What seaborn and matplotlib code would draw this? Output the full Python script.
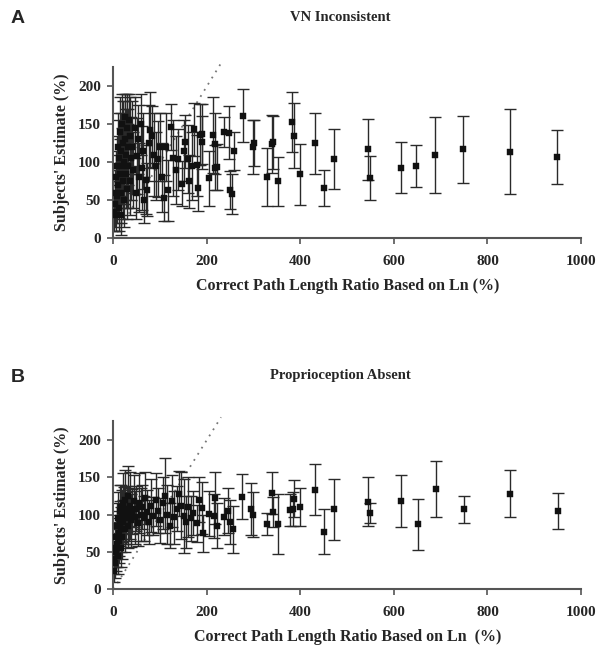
import numpy as np
import pandas as pd
import matplotlib
matplotlib.use("Agg")
import matplotlib.pyplot as plt
import seaborn as sns

# Panel A: VN Inconsistent  (x = correct ratio %, y = mean estimate %, err = SD)
a_x = [2, 3, 4, 5, 6, 7, 8, 9, 10, 11, 12, 13, 14, 15, 16, 17, 18, 19, 20, 21,
       22, 23, 24, 25, 26, 27, 28, 29, 30, 32, 33, 35, 36, 38, 40, 42, 45, 48, 50, 53,
       55, 58, 60, 63, 66, 69, 72, 75, 78, 82, 86, 90, 95, 100, 103, 108, 112, 117, 122, 127,
       133, 138, 146, 150, 154, 159, 161, 168, 173, 179, 180, 186, 189, 190, 205, 213, 217, 218, 221, 236,
       247, 250, 254, 257, 276, 298, 301, 328, 339, 341, 351,
       381, 386, 399, 430, 450, 471, 544, 548, 616, 648, 688, 748, 848, 948]
a_y = [35, 60, 45, 80, 30, 95, 55, 120, 70, 40, 105, 85, 140, 60, 115, 30, 95, 150, 75, 125,
       50, 100, 160, 130, 85, 110, 65, 145, 120, 95, 155, 75, 135, 105, 120, 90, 145, 60, 108, 130,
       80, 150, 92, 115, 50, 77, 64, 125, 142, 134, 110, 95, 104, 120, 80, 53, 120, 63, 146, 105,
       90, 104, 72, 115, 127, 104, 75, 95, 143, 96, 66, 136, 137, 126, 79, 136, 124, 93, 94, 140,
       139, 63, 58, 115, 161, 120, 125, 80, 124, 126, 75,
       153, 135, 84, 125, 66, 104, 117, 79, 93, 95, 109, 117, 114, 107]
a_err = [25, 30, 30, 35, 20, 40, 35, 45, 40, 30, 50, 45, 45, 40, 50, 25, 50, 40, 50, 55,
         35, 55, 30, 50, 45, 60, 40, 45, 50, 55, 35, 45, 50, 55, 60, 50, 40, 35, 50, 45,
         45, 40, 55, 50, 30, 45, 35, 50, 50, 40, 55, 45, 50, 45, 45, 30, 45, 40, 30, 50,
         45, 40, 30, 40, 35, 45, 35, 45, 35, 40, 30, 40, 40, 35, 36, 50, 40, 30, 30, 20,
         35, 25, 26, 25, 35, 35, 30, 38, 38, 35, 32,
         39, 43, 40, 40, 24, 39, 40, 29, 34, 27, 50, 44, 56, 35]

# Panel B: Proprioception Absent
b_x = [1, 2, 3, 4, 5, 6, 7, 8, 9, 10, 11, 12, 13, 14, 15, 16, 17, 18, 19, 20,
       21, 22, 24, 25, 26, 28, 30, 32, 34, 36, 38, 40, 43, 46, 49, 52, 55, 58, 62, 65,
       68, 72, 76, 80, 85, 90, 95, 100, 105, 110, 115, 120, 125, 130, 135, 140, 145, 150, 155, 160,
       165, 170, 178, 183, 189, 191, 204, 215, 217, 221, 237, 246, 250, 256, 275, 294, 299, 328, 340, 341,
       351, 377,
       383, 386, 399, 430, 450, 471, 544, 548, 616, 651, 690, 749, 848, 950]
b_y = [25, 40, 55, 35, 70, 50, 85, 60, 45, 95, 75, 65, 105, 88, 55, 110, 80, 98, 70, 115,
       90, 102, 80, 120, 95, 108, 85, 125, 100, 112, 92, 104, 118, 96, 108, 88, 115, 100, 110, 95,
       122, 103, 90, 112, 98, 120, 105, 92, 115, 125, 100, 85, 118, 96, 108, 128, 112, 98, 90, 110,
       95, 102, 88, 120, 109, 75, 101, 98, 122, 85, 97, 105, 90, 80, 124, 107, 100, 87, 129, 103,
       87, 106,
       107, 121, 110, 133, 77, 107, 117, 102, 118, 87, 134, 107, 128, 105]
b_err = [15, 20, 25, 20, 30, 25, 30, 30, 25, 35, 30, 30, 35, 30, 25, 30, 30, 35, 30, 40,
         30, 35, 30, 40, 35, 30, 30, 40, 35, 45, 35, 30, 35, 35, 30, 30, 40, 35, 30, 30,
         35, 30, 30, 35, 25, 35, 30, 30, 35, 50, 40, 30, 35, 35, 30, 30, 45, 50, 35, 40,
         30, 30, 25, 30, 35, 25, 30, 30, 35, 30, 25, 30, 30, 32, 30, 35, 30, 15, 28, 20,
         40, 22,
         23, 25, 26, 34, 30, 41, 33, 14, 35, 34, 37, 18, 31, 24]

identity = [0, 230]

sns.set_style("white")
plt.rcParams["font.family"] = ["Liberation Serif", "DejaVu Serif"]

fig = plt.figure(figsize=(6.05, 6.56), dpi=100)
ax_a = fig.add_axes([0.1876, 0.6367, 0.7727, 0.2611])
ax_b = fig.add_axes([0.1876, 0.1017, 0.7727, 0.2565])

panels = [
    (ax_a, a_x, a_y, a_err, "Correct Path Length Ratio Based on Ln (%)"),
    (ax_b, b_x, b_y, b_err, "Correct Path Length Ratio Based on Ln  (%)"),
]

for ax, xs, ys, errs, xlabel in panels:
    df = pd.DataFrame({"x": xs, "y": ys, "err": errs})
    ax.errorbar(df["x"], df["y"], yerr=df["err"], fmt="none", ecolor="#2a2a2a",
                elinewidth=1.0, capsize=4, capthick=1.0, zorder=2)
    sns.scatterplot(data=df, x="x", y="y", ax=ax, marker="s", s=13, color="#111111",
                    edgecolor="#111111", linewidth=0.3, zorder=3)
    ax.plot(identity, identity, linestyle=(0, (1, 3)), color="#777777", lw=1.3,
            clip_on=False, zorder=1)

    ax.set_xlim(0, 1000)
    ax.set_ylim(0, 225)
    ax.set_xticks([0, 200, 400, 600, 800, 1000])
    ax.set_yticks([0, 50, 100, 150, 200])
    for s in ["top", "right"]:
        ax.spines[s].set_visible(False)
    for s in ["left", "bottom"]:
        ax.spines[s].set_color("#555555")
        ax.spines[s].set_linewidth(1.5)
    ax.tick_params(axis="both", direction="out", length=4, width=1.2, color="#555555",
                   labelsize=11, bottom=True, left=True)
    ax.tick_params(axis="x", pad=8)
    ax.tick_params(axis="y", pad=5)
    for lab in ax.get_xticklabels() + ax.get_yticklabels():
        lab.set_fontweight("bold")

    ax.set_xlabel(xlabel, fontsize=11.5, fontweight="bold", labelpad=7)
    ax.set_ylabel("Subjects' Estimate (%)", fontsize=11.5, fontweight="bold", labelpad=6)

fig.text(0.562, 0.974, "VN Inconsistent", ha="center", va="center", fontsize=10.5,
         fontweight="bold")
fig.text(0.562, 0.428, "Proprioception Absent", ha="center", va="center", fontsize=10.5,
         fontweight="bold")
fig.text(0.018, 0.972, "A", ha="left", va="center", fontsize=14, fontweight="bold",
         family=["Liberation Sans", "DejaVu Sans"])
fig.text(0.018, 0.424, "B", ha="left", va="center", fontsize=14, fontweight="bold",
         family=["Liberation Sans", "DejaVu Sans"])

fig.savefig("out.png", dpi=100, facecolor="white")
